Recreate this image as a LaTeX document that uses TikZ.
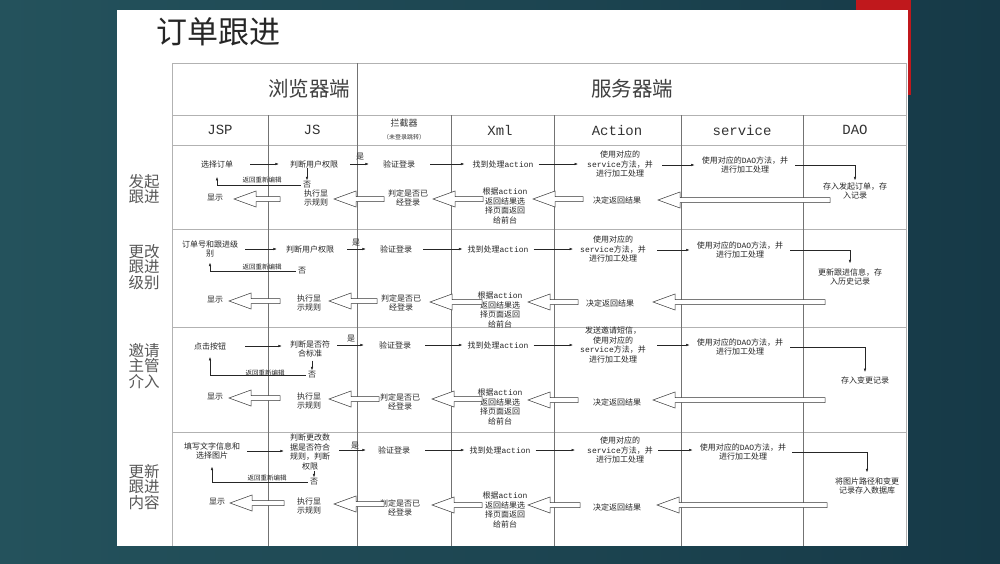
\documentclass[tikz,border=0pt]{standalone}
\usepackage{fontspec}
\setmainfont{Liberation Serif}
\newfontfamily\cjk{Noto Sans CJK SC}
\newfontfamily\mono{Liberation Mono}
\usetikzlibrary{arrows.meta,calc}
\newcommand\hol[3]{%
  \coordinate (#1t) at #2; \coordinate (#1s) at #3;
  \draw[hollow] let \p1=(#1t), \p2=(#1s) in
   (\x1,\y1) -- ++(22pt,8pt) -- ++(0,-5.5pt) -- (\x2,\y1+2.5pt) -- (\x2,\y1-2.5pt)
   -- (\x1+22pt,\y1-2.5pt) -- ++(0,-5.5pt) -- cycle;}
\definecolor{bgl}{RGB}{36,82,92}
\definecolor{bgr}{RGB}{22,57,71}
\definecolor{slidered}{RGB}{192,24,28}
\begin{document}
\begin{tikzpicture}[x=1pt,y=-1pt,
  cell/.style={font=\cjk\fontsize{8}{9.5}\selectfont, align=center, inner sep=0pt, text=black!85},
  tiny/.style={font=\cjk\fontsize{6.5}{7}\selectfont, inner sep=0pt, text=black!85},
  flow/.style={-{Latex[length=3.5pt,width=2.6pt]}, line width=0.5pt, black!85},
  hollow/.style={draw=black!80, line width=0.5pt, fill=white},
  rowlab/.style={font=\cjk\fontsize{15.5}{15.5}\selectfont, align=center, text=black!65},
  colhead/.style={font=\mono\fontsize{14}{15}\selectfont, text=black!80},
  bighead/.style={font=\cjk\fontsize{20.5}{22}\selectfont, text=black!75},
  vline/.style={black!55, line width=0.8pt},
  hline/.style={black!30, line width=1pt}]
\useasboundingbox (0,0) rectangle (1000,563);
\fill[left color=bgl, right color=bgr] (0,0) rectangle (1000,563);
\fill[slidered] (856,0) rectangle (911,95);
\fill[white] (117,10) rectangle (908,546);
% title
\node[font=\cjk\fontsize{31}{33}\selectfont, inner sep=0pt, text=black!85] (title) at (218,32) {订单跟进};
% table
\foreach \yy in {63,115,145,229,327,432} \draw[hline] (172,\yy) -- (906,\yy);
\draw[hline] (172,63) -- (172,546);
\draw[hline] (906,63) -- (906,546);
\draw[vline] (357,63) -- (357,546);
\foreach \xx in {268,451,554,681,803} \draw[vline] (\xx,115) -- (\xx,546);
\node[bighead] (hb) at (309,89) {浏览器端};
\node[bighead] (hs) at (632,89) {服务器端};
\node[colhead] (cjsp) at (220,130) {JSP};
\node[colhead] (cjs) at (312,130) {JS};
\node[font=\cjk\fontsize{9}{10}\selectfont, text=black!80] (cint) at (404,123) {拦截器};
\node[font=\cjk\fontsize{6}{7}\selectfont, text=black!80] (cint2) at (404,137) {（未登录跳转）};
\node[colhead] (cxml) at (500,130) {Xml};
\node[colhead] (cact) at (617,130) {Action};
\node[colhead] (cser) at (742,130) {service};
\node[colhead] (cdao) at (855,130) {DAO};
% row labels
\node[rowlab] (l1) at (144,189) {发起\\跟进};
\node[rowlab] (l2) at (144,267) {更改\\跟进\\级别};
\node[rowlab] (l3) at (144,366) {邀请\\主管\\介入};
\node[rowlab] (l4) at (144,487) {更新\\跟进\\内容};
% ---------- row 1
\node[cell] (r1a) at (217,164) {选择订单};
\node[cell] (r1b) at (314,164) {判断用户权限};
\node[cell] (r1c) at (399,164) {验证登录};
\node[cell] (r1d) at (503,164) {找到处理{\mono action}};
\node[cell] (r1e) at (620,164) {使用对应的\\{\mono service}方法，并\\进行加工处理};
\node[cell] (r1f) at (745,165) {使用对应的{\mono DAO}方法，并\\进行加工处理};
\node[cell] (r1g) at (855,191) {存入发起订单，存\\入记录};
\node[cell] (r1no) at (307,185) {否};
\node[cell] (r1yes) at (360,157) {是};
\node[tiny] (r1ret) at (262,180) {返回重新编辑};
\node[cell] (r1h) at (215,198) {显示};
\node[cell] (r1i) at (316,198) {执行显\\示规则};
\node[cell] (r1j) at (408,198) {判定是否已\\经登录};
\node[cell] (r1k) at (505,206) {根据{\mono action}\\返回结果选\\择页面返回\\给前台};
\node[cell] (r1l) at (617,200) {决定返回结果};
\draw[flow, shorten <=17pt, shorten >=11pt] (r1a) -- (r1b);
\draw[flow, shorten <=12pt, shorten >=14pt] (r1b) -- (r1c);
\draw[flow, shorten <=15pt, shorten >=8pt] (r1c) -- (r1d);
\draw[flow, shorten <=5pt, shorten >=9pt] (r1d) -- (r1e);
\draw[flow, shorten <=9pt, shorten >=7pt] (r1e.east |- r1f) -- (r1f);
\draw[flow, shorten <=7pt, shorten >=2pt] (r1f.east) -| (r1g.north);
\draw[flow, shorten >=1pt] (r1b.south -| r1no.north) -- (r1no.north);
\draw[flow, shorten <=2pt, shorten >=9pt] (r1no.west) -| (r1a.south);
\hol{h11}{(234,199)}{(280,199)}
\hol{h12}{(334,199)}{(384,199)}
\hol{h13}{(433,199)}{(483,199)}
\hol{h14}{(533,199)}{(583,199)}
\hol{h15}{(658,200)}{(830,200)}
% ---------- row 2
\node[cell] (r2a) at (210,249) {订单号和跟进级\\别};
\node[cell] (r2b) at (310,249) {判断用户权限};
\node[cell] (r2c) at (396,249) {验证登录};
\node[cell] (r2d) at (498,249) {找到处理{\mono action}};
\node[cell] (r2e) at (613,249) {使用对应的\\{\mono service}方法，并\\进行加工处理};
\node[cell] (r2f) at (740,250) {使用对应的{\mono DAO}方法，并\\进行加工处理};
\node[cell] (r2g) at (850,277) {更新跟进信息，存\\入历史记录};
\node[cell] (r2no) at (302,271) {否};
\node[cell] (r2yes) at (356,243) {是};
\node[tiny] (r2ret) at (262,267) {返回重新编辑};
\node[cell] (r2h) at (215,300) {显示};
\node[cell] (r2i) at (309,303) {执行显\\示规则};
\node[cell] (r2j) at (401,303) {判定是否已\\经登录};
\node[cell] (r2k) at (500,310) {根据{\mono action}\\返回结果选\\择页面返回\\给前台};
\node[cell] (r2l) at (610,303) {决定返回结果};
\draw[flow, shorten <=7pt, shorten >=9pt] (r2a) -- (r2b);
\draw[flow, shorten <=13pt, shorten >=14pt] (r2b) -- (r2c);
\draw[flow, shorten <=11pt, shorten >=5pt] (r2c) -- (r2d);
\draw[flow, shorten <=5pt, shorten >=7pt] (r2d) -- (r2e);
\draw[flow, shorten <=11pt, shorten >=7pt] (r2e.east |- r2f) -- (r2f);
\draw[flow, shorten <=7pt, shorten >=5pt] (r2f.east) -| (r2g.north);
\draw[flow, shorten <=2pt, shorten >=5pt] (r2no.west) -| (r2a.south);
\hol{h21}{(229,301)}{(280,301)}
\hol{h22}{(329,301)}{(377,301)}
\hol{h23}{(430,302)}{(482,302)}
\hol{h24}{(528,302)}{(578,302)}
\hol{h25}{(653,302)}{(825,302)}
% ---------- row 3
\node[cell] (r3a) at (210,346) {点击按钮};
\node[cell] (r3b) at (310,349) {判断是否符\\合标准};
\node[cell] (r3c) at (395,345) {验证登录};
\node[cell] (r3d) at (498,345) {找到处理{\mono action}};
\node[cell] (r3e) at (613,345) {发送邀请短信，\\使用对应的\\{\mono service}方法，并\\进行加工处理};
\node[cell] (r3f) at (740,347) {使用对应的{\mono DAO}方法，并\\进行加工处理};
\node[cell] (r3g) at (865,380) {存入变更记录};
\node[cell] (r3no) at (312,375) {否};
\node[cell] (r3yes) at (351,339) {是};
\node[tiny] (r3ret) at (265,373) {返回重新编辑};
\node[cell] (r3h) at (215,397) {显示};
\node[cell] (r3i) at (309,401) {执行显\\示规则};
\node[cell] (r3j) at (400,402) {判定是否已\\经登录};
\node[cell] (r3k) at (500,407) {根据{\mono action}\\返回结果选\\择页面返回\\给前台};
\node[cell] (r3l) at (617,402) {决定返回结果};
\draw[flow, shorten <=19pt, shorten >=8pt] (r3a) -- (r3a -| r3b.west);
\draw[flow, shorten <=7pt, shorten >=15pt] (r3b.east |- r3c) -- (r3c);
\draw[flow, shorten <=14pt, shorten >=5pt] (r3c) -- (r3d);
\draw[flow, shorten <=5pt, shorten >=7pt] (r3d) -- (r3e);
\draw[flow, shorten <=11pt, shorten >=7pt] (r3e.east |- r3d) -- (r3d -| r3f.west);
\draw[flow, shorten <=7pt, shorten >=4pt] (r3f.east) -| (r3g.north);
\draw[flow, shorten <=3pt, shorten >=1pt] (r3b.south -| r3no.north) -- (r3no.north);
\draw[flow, shorten <=2pt, shorten >=7pt] (r3no.west) -| (r3a.south);
\hol{h31}{(229,398)}{(280,398)}
\hol{h32}{(329,399)}{(379,399)}
\hol{h33}{(432,399)}{(482,399)}
\hol{h34}{(528,400)}{(578,400)}
\hol{h35}{(653,400)}{(825,400)}
% ---------- row 4
\node[cell] (r4a) at (212,451) {填写文字信息和\\选择图片};
\node[cell] (r4b) at (310,452) {判断更改数\\据是否符合\\规则，判断\\权限};
\node[cell] (r4c) at (394,450) {验证登录};
\node[cell] (r4d) at (500,450) {找到处理{\mono action}};
\node[cell] (r4e) at (620,450) {使用对应的\\{\mono service}方法，并\\进行加工处理};
\node[cell] (r4f) at (743,452) {使用对应的{\mono DAO}方法，并\\进行加工处理};
\node[cell] (r4g) at (867,486) {将图片路径和变更\\记录存入数据库};
\node[cell] (r4no) at (314,482) {否};
\node[cell] (r4yes) at (355,446) {是};
\node[tiny] (r4ret) at (267,478) {返回重新编辑};
\node[cell] (r4h) at (217,502) {显示};
\node[cell] (r4i) at (309,506) {执行显\\示规则};
\node[cell] (r4j) at (400,508) {判定是否已\\经登录};
\node[cell] (r4k) at (505,510) {根据{\mono action}\\返回结果选\\择页面返回\\给前台};
\node[cell] (r4l) at (617,507) {决定返回结果};
\draw[flow, shorten <=7pt, shorten >=6pt] (r4a.east) -- (r4a -| r4b.west);
\draw[flow, shorten <=9pt, shorten >=12pt] (r4b.east |- r4c) -- (r4c);
\draw[flow, shorten <=15pt, shorten >=5pt] (r4c) -- (r4d);
\draw[flow, shorten <=5pt, shorten >=12pt] (r4d) -- (r4e);
\draw[flow, shorten <=5pt, shorten >=7pt] (r4e.east |- r4d) -- (r4d -| r4f.west);
\draw[flow, shorten <=6pt, shorten >=5pt] (r4f.east) -| (r4g.north);
\draw[flow, shorten <=1pt, shorten >=1pt] (r4b.south -| r4no.north) -- (r4no.north);
\draw[flow, shorten <=2pt, shorten >=7pt] (r4no.west) -| (r4a.south);
\hol{h41}{(230,503)}{(284,503)}
\hol{h42}{(334,504)}{(384,504)}
\hol{h43}{(432,505)}{(482,505)}
\hol{h44}{(528,505)}{(580,505)}
\hol{h45}{(657,505)}{(827,505)}
\end{tikzpicture}
\end{document}
